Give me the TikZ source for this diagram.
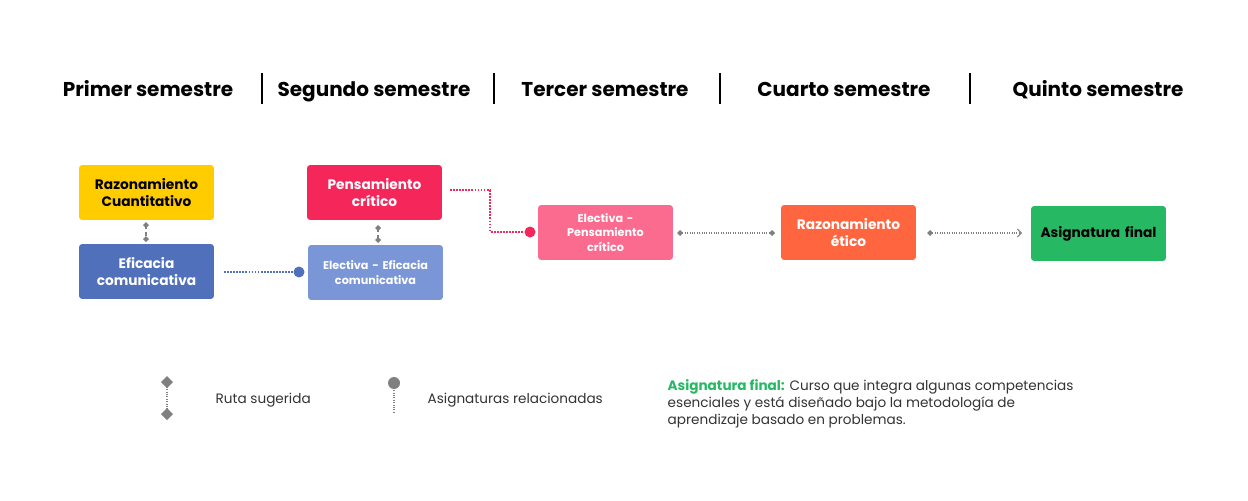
\documentclass[tikz,border=0pt]{standalone}
\usepackage{fontspec}
\setmainfont{Poppins}
\usepackage{xcolor}
\usetikzlibrary{arrows.meta}
\usetikzlibrary{positioning}

\definecolor{amarillo}{HTML}{FFCC00}
\definecolor{azul}{HTML}{5170BB}
\definecolor{azulclaro}{HTML}{7B96D6}
\definecolor{rojo}{HTML}{F5265A}
\definecolor{rosa}{HTML}{FB6B8F}
\definecolor{naranja}{HTML}{FF6640}
\definecolor{verde}{HTML}{27B864}
\definecolor{gris}{HTML}{808080}
\definecolor{texto}{HTML}{333333}

\begin{document}
\begin{tikzpicture}[
    x=0.75pt, y=-0.75pt,
    materia/.style={rectangle, rounded corners=2pt, minimum width=101pt, minimum height=41pt,
      text width=97pt, align=center, font=\bfseries\fontsize{10.3}{13}\selectfont, text=white,
      inner sep=0pt},
    electiva/.style={materia, font=\bfseries\fontsize{8.4}{11}\selectfont},
    semestre/.style={font=\bfseries\fontsize{15}{17}\selectfont, text=black, anchor=base},
    ruta/.style={gris, densely dashed, line width=0.8pt},
    relacion/.style={densely dotted, line width=1.3pt},
    leyenda/.style={font=\fontsize{10.2}{12.8}\selectfont, text=texto, anchor=west},
  ]
  \useasboundingbox (0,0) rectangle (1248,500);

  % semestres
  \node[semestre] (s1) at (148, 96) {Primer semestre};
  \node[semestre] (s2) at (374, 96) {Segundo semestre};
  \node[semestre] (s3) at (605, 96) {Tercer semestre};
  \node[semestre] (s4) at (844, 96) {Cuarto semestre};
  \node[semestre] (s5) at (1098, 96) {Quinto semestre};
  \foreach \x in {262, 494, 720, 970}
    \draw[black, line width=0.8pt] (\x, 73) -- (\x, 104);

  % asignaturas
  \node[materia, fill=amarillo, text=black] (rc) at (146.5, 192.5) {Razonamiento\\Cuantitativo};
  \node[materia, fill=azul] (ec) at (146.5, 271.5) {Eficacia\\comunicativa};
  \node[materia, fill=rojo] (pc) at (374.5, 192.5) {Pensamiento\\crítico};
  \node[electiva, fill=azulclaro] (eec) at (375.5, 272.5) {Electiva - Eficacia\\comunicativa};
  \node[electiva, fill=rosa] (epc) at (605.5, 232.5) {Electiva -\\Pensamiento\\crítico};
  \node[materia, fill=naranja] (re) at (848.5, 232.5) {Razonamiento\\ético};
  \node[materia, fill=verde, text=black] (af) at (1098.5, 233.5) {Asignatura final};

  % ruta sugerida
  \coordinate (r1) at (146, 225);
  \coordinate (r2) at (146, 239);
  \draw[ruta] (r1) -- (r2);
  \fill[gris] (r1) +(-3,0) -- +(0,-3) -- +(3,0) -- +(0,3) -- cycle;
  \fill[gris] (r2) +(-3,0) -- +(0,-3) -- +(3,0) -- +(0,3) -- cycle;

  \coordinate (r3) at (378, 228);
  \coordinate (r4) at (378, 240);
  \draw[ruta] (r3) -- (r4);
  \fill[gris] (r3) +(-3,0) -- +(0,-3) -- +(3,0) -- +(0,3) -- cycle;
  \fill[gris] (r4) +(-3,0) -- +(0,-3) -- +(3,0) -- +(0,3) -- cycle;

  \coordinate (r5) at (680, 233);
  \coordinate (r6) at (772, 233);
  \draw[gris, densely dotted, line width=0.8pt] (r5) -- (r6);
  \fill[gris] (r5) +(-3,0) -- +(0,-3) -- +(3,0) -- +(0,3) -- cycle;
  \fill[gris] (r6) +(-3,0) -- +(0,-3) -- +(3,0) -- +(0,3) -- cycle;

  \coordinate (r7) at (930, 233);
  \coordinate (r8) at (1022, 233);
  \draw[gris, densely dotted, line width=0.8pt, -{Straight Barb[length=3pt, width=6pt]}] (r7) -- (r8);
  \fill[gris] (r7) +(-3,0) -- +(0,-3) -- +(3,0) -- +(0,3) -- cycle;

  % asignaturas relacionadas
  \coordinate (a1) at (224, 272);
  \coordinate (a2) at (299, 272);
  \draw[azul, relacion] (a1) -- (a2);
  \fill[azul] (a2) circle (5.5);

  \coordinate (b1) at (450, 190);
  \coordinate (b2) at (530, 232);
  \draw[rojo, relacion] (b1) -- (490, 190) -- (490, 232) -- (b2);
  \fill[rojo] (b2) circle (5.5);

  % leyenda
  \coordinate (l1) at (167, 382);
  \coordinate (l2) at (167, 414);
  \draw[gris, densely dotted, line width=0.8pt] (l1) -- (l2);
  \fill[gris] (l1) +(-6,0) -- +(0,-6) -- +(6,0) -- +(0,6) -- cycle;
  \fill[gris] (l2) +(-6,0) -- +(0,-6) -- +(6,0) -- +(0,6) -- cycle;
  \node[leyenda] (ls) at (211, 400) {Ruta sugerida};

  \coordinate (l3) at (394, 383);
  \coordinate (l4) at (394, 414);
  \draw[gris, densely dotted, line width=0.8pt] (l3) -- (l4);
  \fill[gris] (l3) circle (6);
  \node[leyenda] (la) at (423, 400) {Asignaturas relacionadas};

  \node[leyenda, align=left] (lf) at (663, 404)
    {{\bfseries\color{verde}Asignatura final:} Curso que integra algunas competencias\\
     esenciales y está diseñado bajo la metodología de\\
     aprendizaje basado en problemas.};

\end{tikzpicture}
\end{document}
